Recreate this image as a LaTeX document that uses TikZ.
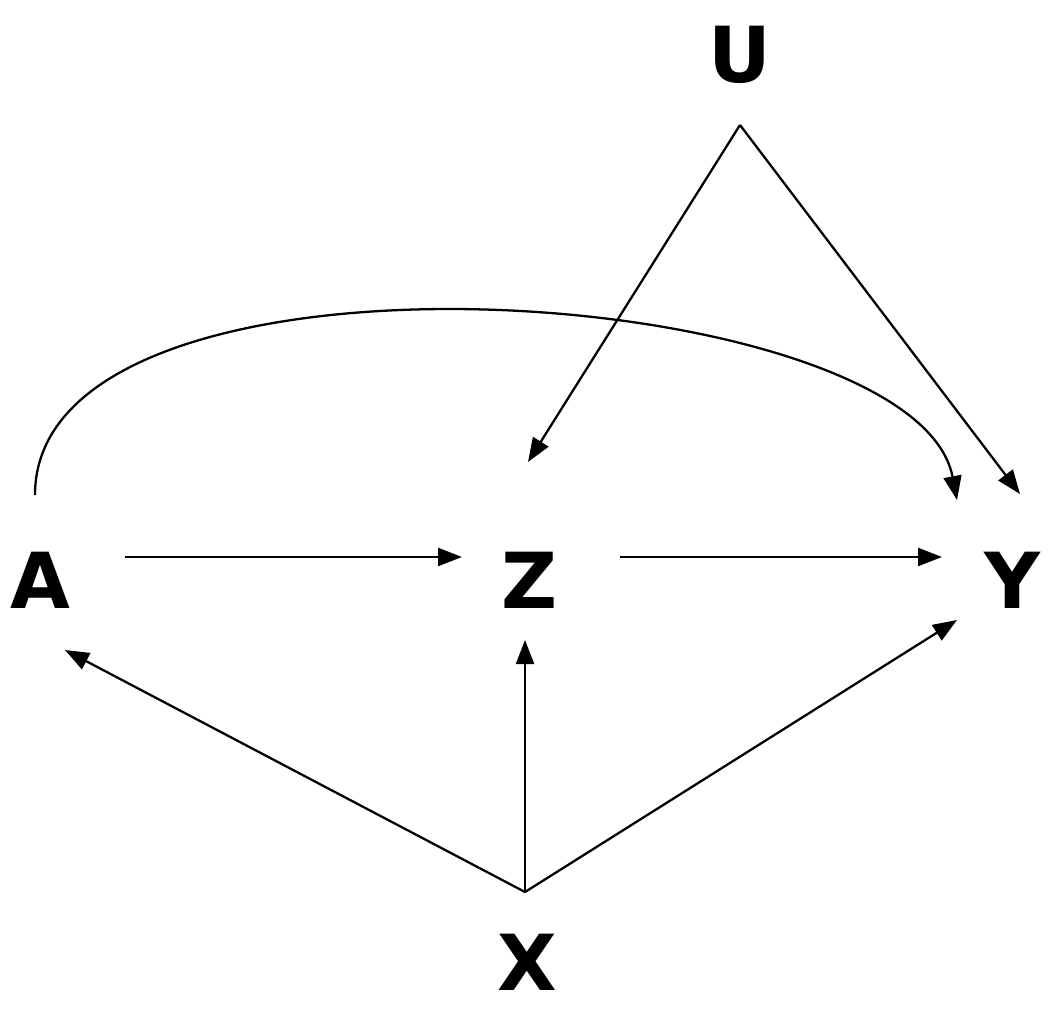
\documentclass[tikz,border=0pt]{standalone}
\usepackage{fontspec}
\setmainfont{DejaVu Sans}
\usetikzlibrary{arrows.meta}
\begin{document}
\begin{tikzpicture}[x=0.02cm,y=-0.02cm,
  lbl/.style={font=\fontsize{44}{50}\selectfont\bfseries,inner sep=0pt},
  arr/.style={line width=1.3pt,-{Triangle[length=0.48cm,width=0.36cm]}}]
\useasboundingbox (0,0) rectangle (1050,1017);
\node[lbl] (U) at (740,55) {U};
\node[lbl] (A) at (40,580) {A};
\node[lbl] (Z) at (530,580) {Z};
\node[lbl] (Y) at (1012,580) {Y};
\node[lbl] (X) at (527,962) {X};
\coordinate (a1) at (125,557); \coordinate (z1) at (462,557);
\coordinate (z2) at (620,557); \coordinate (y1) at (942,557);
\coordinate (xo) at (525,892);
\coordinate (ai) at (65,650); \coordinate (zi) at (525,640); \coordinate (yi) at (957,620);
\coordinate (uo) at (740,125);
\coordinate (zu) at (528,462); \coordinate (yu) at (1020,494);
\coordinate (ac) at (35,495); \coordinate (yc) at (957,500);
\draw[arr] (a1) -- (z1);
\draw[arr] (z2) -- (y1);
\draw[arr] (xo) -- (ai);
\draw[arr] (xo) -- (zi);
\draw[arr] (xo) -- (yi);
\draw[arr] (uo) -- (zu);
\draw[arr] (uo) -- (yu);
\draw[arr] (ac) .. controls (35,220) and (915,281) .. (yc);
\end{tikzpicture}
\end{document}
